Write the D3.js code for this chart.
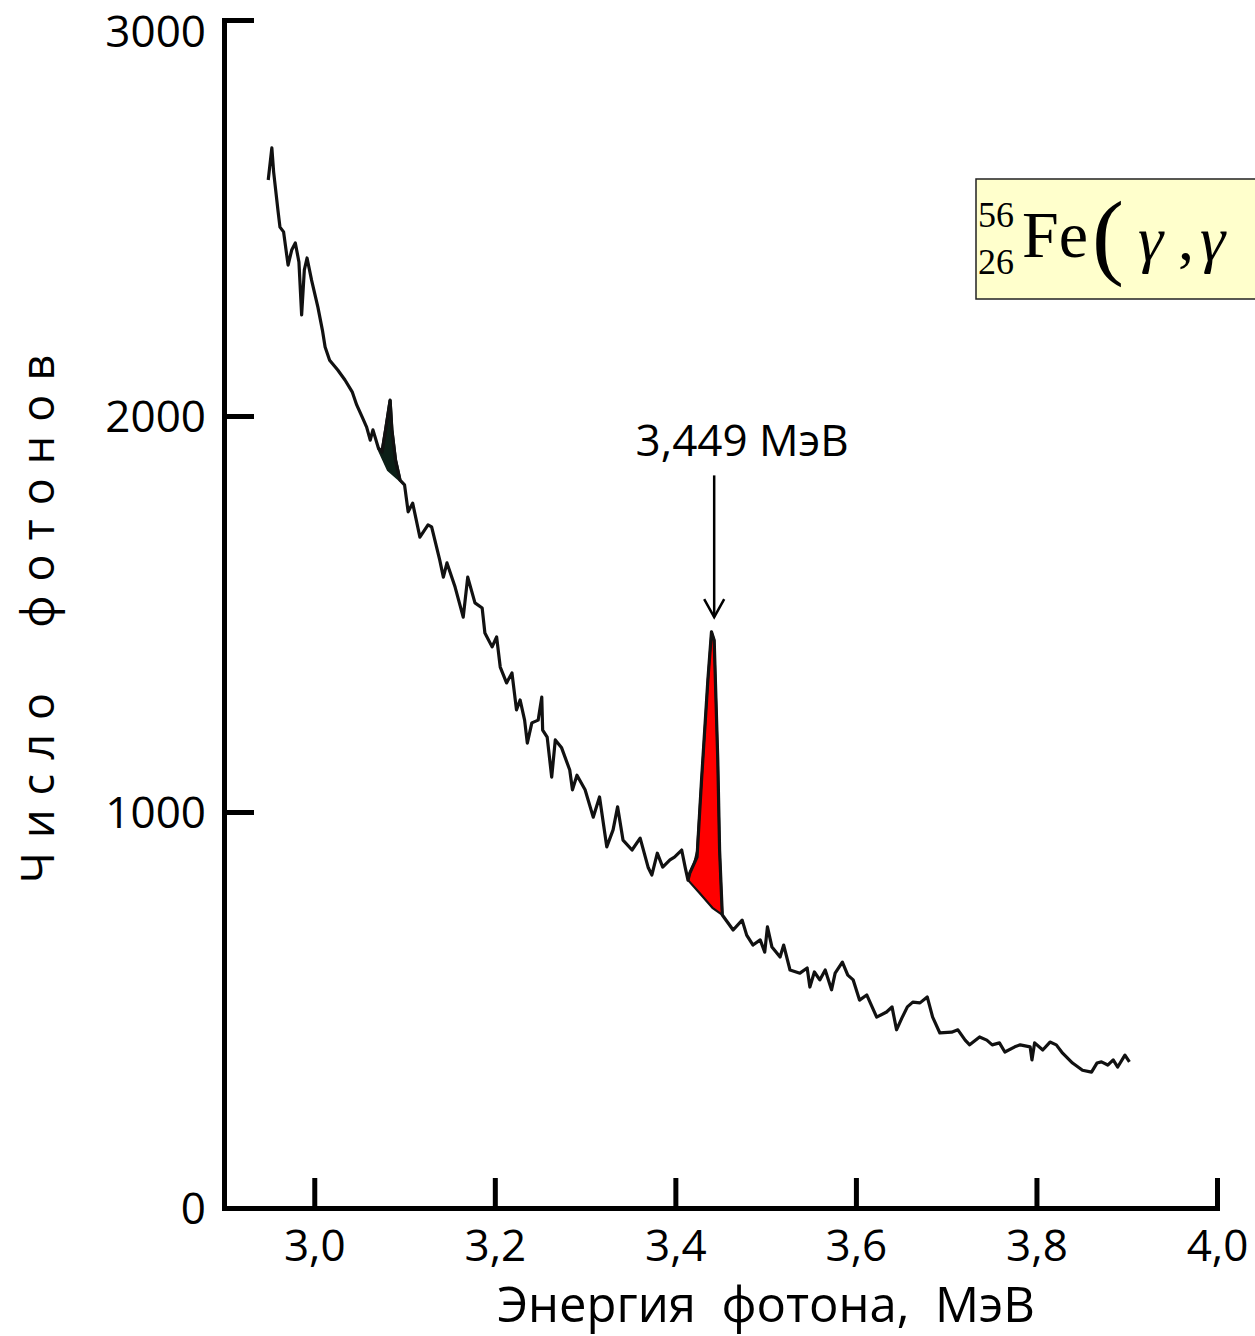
<!DOCTYPE html>
<html>
<head>
<meta charset="utf-8">
<script src="https://d3js.org/d3.v7.min.js"></script>
<style>
  body { margin: 0; background: #fff; }
  svg { display: block; }
</style>
</head>
<body>
<svg width="1255" height="1336"></svg>
<script>
    // spectrum: photon energy (MeV) and counts
    const energy = [2.949, 2.953, 2.955, 2.960, 2.962, 2.966, 2.971, 2.975, 2.979, 2.983, 2.986, 2.989, 2.992, 2.997,
        3.004, 3.009, 3.012, 3.017, 3.026, 3.034, 3.042, 3.047, 3.053, 3.058, 3.062, 3.065, 3.071, 3.075, 3.079,
        3.084, 3.086, 3.090, 3.095, 3.100, 3.104, 3.109, 3.117, 3.126, 3.130, 3.139, 3.143, 3.147, 3.156, 3.165,
        3.170, 3.178, 3.186, 3.189, 3.197, 3.202, 3.206, 3.213, 3.219, 3.224, 3.228, 3.233, 3.236, 3.241, 3.248,
        3.252, 3.253, 3.258, 3.263, 3.267, 3.274, 3.283, 3.286, 3.291, 3.300, 3.309, 3.316, 3.324, 3.331, 3.336,
        3.342, 3.352, 3.361, 3.370, 3.374, 3.380, 3.386, 3.394, 3.399, 3.407, 3.411, 3.414, 3.416, 3.424, 3.429,
        3.436, 3.440, 3.443, 3.447, 3.449, 3.452, 3.464, 3.474, 3.479, 3.486, 3.494, 3.499, 3.502, 3.507, 3.516,
        3.520, 3.527, 3.538, 3.546, 3.549, 3.554, 3.560, 3.566, 3.573, 3.577, 3.585, 3.591, 3.597, 3.604, 3.612,
        3.623, 3.634, 3.640, 3.645, 3.651, 3.657, 3.663, 3.671, 3.679, 3.685, 3.693, 3.706, 3.713, 3.721, 3.726,
        3.737, 3.745, 3.751, 3.759, 3.765, 3.776, 3.782, 3.793, 3.795, 3.798, 3.807, 3.815, 3.822, 3.829, 3.840,
        3.851, 3.861, 3.867, 3.872, 3.879, 3.885, 3.890, 3.898, 3.903];
    const counts = [2596, 2677, 2616, 2515, 2477, 2465, 2381, 2419, 2437, 2389, 2255, 2369, 2399, 2343,
        2275, 2217, 2174, 2141, 2116, 2091, 2061, 2028, 1998, 1972, 1939, 1965, 1919, 1909, 1965,
        2040, 1965, 1889, 1838, 1826, 1758, 1780, 1694, 1725, 1720, 1636, 1593, 1629, 1568, 1492,
        1593, 1528, 1515, 1452, 1417, 1442, 1366, 1326, 1351, 1258, 1283, 1232, 1174, 1225, 1232,
        1290, 1207, 1189, 1088, 1182, 1162, 1106, 1056, 1093, 1056, 987, 1038, 912, 955, 1013,
        929, 904, 934, 859, 841, 896, 861, 879, 886, 904, 859, 828, 846, 886, 1081,
        1333, 1455, 1434, 1131, 904, 740, 702, 727, 689, 664, 677, 646, 710, 659, 634,
        664, 601, 593, 606, 558, 596, 576, 601, 551, 593, 621, 588, 576, 525, 538,
        482, 495, 508, 450, 480, 508, 520, 518, 533, 482, 442, 444, 450, 424, 412,
        432, 424, 412, 417, 394, 407, 412, 407, 374, 417, 399, 419, 412, 391, 366,
        348, 343, 366, 369, 361, 374, 356, 386, 369];

    // red 3.449 MeV line (outline of the filled peak)
    const peakEnergy = [3.414, 3.416, 3.421, 3.424, 3.429, 3.436, 3.440, 3.443, 3.447, 3.449, 3.452, 3.441, 3.427, 3.414];
    const peakCounts = [828, 846, 872, 900, 1081, 1333, 1455, 1434, 1131, 904, 740, 758, 795, 828];

    // small dark peak near 3.08 MeV
    const smallEnergy = [3.071, 3.075, 3.079, 3.084, 3.086, 3.090, 3.095, 3.082, 3.071];
    const smallCounts = [1919, 1909, 1965, 2040, 1965, 1889, 1838, 1864, 1919];

    const xTicks = [3.0, 3.2, 3.4, 3.6, 3.8, 4.0];
    const yTicks = [0, 1000, 2000, 3000];
    const peakLabel = '3,449 МэВ';
    const arrowE = 3.443, arrowFrom = 1850, arrowTo = 1492;

    const svg = d3.select('svg');
    const font = "'Open Sans', sans-serif";

    const x = d3.scaleLinear().domain([2.9, 4.0]).range([224, 1217]);
    const y = d3.scaleLinear().domain([0, 3000]).range([1208, 20]);

    const ru = d3.formatLocale({decimal: ',', thousands: '', grouping: [3], currency: ['', '']});

    // legend box, partly cut by the right edge
    const leg = svg.append('g');
    leg.append('rect')
        .attr('x', 976).attr('y', 179).attr('width', 320).attr('height', 120)
        .attr('fill', '#ffffcc').attr('stroke', '#222').attr('stroke-width', 1.5);
    const serif = "'Liberation Serif', 'Times New Roman', serif";
    leg.append('text').attr('x', 978).attr('y', 227).style('font-family', serif).style('font-size', '36px').text('56');
    leg.append('text').attr('x', 978).attr('y', 274).style('font-family', serif).style('font-size', '36px').text('26');
    leg.append('text').attr('x', 1022).attr('y', 257).style('font-family', serif).style('font-size', '66px').text('Fe');
    leg.append('text').attr('x', 1092).attr('y', 267).style('font-family', serif).style('font-size', '96px')
        .text('(');
    leg.append('text').attr('x', 1138).attr('y', 260).style('font-family', serif).style('font-size', '64px')
        .style('font-style', 'italic').text('γ');
    leg.append('text').attr('x', 1178).attr('y', 260).style('font-family', serif).style('font-size', '64px').text(',');
    leg.append('text').attr('x', 1200).attr('y', 260).style('font-family', serif).style('font-size', '64px')
        .style('font-style', 'italic').text('γ');

    // filled peaks
    const poly = (es, cs) => d3.line()(es.map((e, i) => [x(e), y(cs[i])])) + 'Z';
    svg.append('path')
        .attr('d', poly(peakEnergy, peakCounts))
        .attr('fill', '#ff0000').attr('stroke', '#111').attr('stroke-width', 2.2)
        .attr('stroke-linejoin', 'round');
    svg.append('path')
        .attr('d', poly(smallEnergy, smallCounts))
        .attr('fill', '#0c1f17').attr('stroke', '#0c1f17').attr('stroke-width', 3);

    // spectrum line
    const line = d3.line().x(d => x(d[0])).y(d => y(d[1]));
    svg.append('path')
        .datum(energy.map((e, i) => [e, counts[i]]))
        .attr('d', line)
        .attr('fill', 'none').attr('stroke', '#111').attr('stroke-width', 3.2)
        .attr('stroke-linejoin', 'round');

    // axes
    const xAxis = d3.axisBottom(x).tickValues(xTicks).tickSizeInner(-30).tickSizeOuter(0).tickPadding(22)
        .tickFormat(ru.format('.1f'));
    const yAxis = d3.axisLeft(y).tickValues(yTicks).tickSizeInner(-30).tickSizeOuter(0).tickPadding(18)
        .tickFormat(d => d);

    const gx = svg.append('g').attr('transform', `translate(0,${y(0)})`).call(xAxis);
    const gy = svg.append('g').attr('transform', `translate(${x(2.9)},0)`).call(yAxis);
    [gx, gy].forEach(g => {
        g.select('.domain').attr('stroke', '#000').attr('stroke-width', 5).attr('stroke-linecap', 'square');
        g.selectAll('.tick line').attr('stroke', '#000').attr('stroke-width', 5);
        g.selectAll('.tick text').attr('fill', '#000').style('font-family', font).style('font-size', '44px');
    });
    gy.selectAll('.tick text').attr('dy', d => d === 3000 ? '0.6em' : '0.36em');

    // axis titles
    svg.append('text')
        .attr('x', 766).attr('y', 1322)
        .attr('text-anchor', 'middle')
        .style('font-family', font).style('font-size', '49px').style('white-space', 'pre')
        .text('Энергия  фотона,  МэВ');

    svg.append('text')
        .attr('transform', 'translate(54,612) rotate(-90)')
        .attr('text-anchor', 'middle')
        .style('font-family', font).style('font-size', '45px').style('letter-spacing', '14px')
        .style('white-space', 'pre')
        .text('Число  фотонов');

    // annotation of the 3.449 MeV peak
    svg.append('text')
        .attr('x', x(arrowE) + 28).attr('y', 456)
        .attr('text-anchor', 'middle')
        .style('font-family', font).style('font-size', '44px')
        .text(peakLabel);
    svg.append('line')
        .attr('x1', x(arrowE)).attr('x2', x(arrowE))
        .attr('y1', y(arrowFrom)).attr('y2', y(arrowTo))
        .attr('stroke', '#000').attr('stroke-width', 2.5);
    svg.append('path')
        .attr('d', `M${x(arrowE) - 10},${y(arrowTo) - 18}L${x(arrowE)},${y(arrowTo)}L${x(arrowE) + 10},${y(arrowTo) - 18}`)
        .attr('fill', 'none').attr('stroke', '#000').attr('stroke-width', 2.5);
</script>
</body>
</html>
